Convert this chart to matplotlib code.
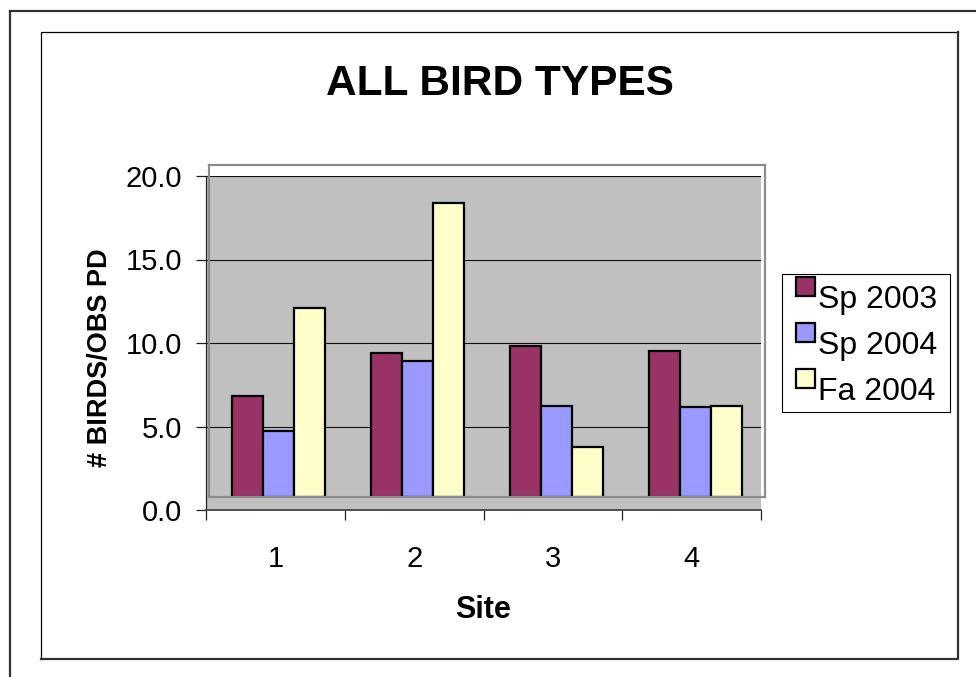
import matplotlib.pyplot as plt
from matplotlib.lines import Line2D
from matplotlib.patches import Rectangle
import numpy as np

plt.rcParams['font.family'] = ['Liberation Sans', 'DejaVu Sans']

sites = ['1', '2', '3', '4']
series = ['Sp 2003', 'Sp 2004', 'Fa 2004']
colors = ['#993366', '#9999FF', '#FFFFCC']
sp_2003 = [6.1, 8.7, 9.1, 8.8]
sp_2004 = [4.0, 8.2, 5.5, 5.4]
fa_2004 = [11.4, 17.7, 3.0, 5.5]
yticks = [0, 5, 10, 15, 20]

W, H = 976, 677


def fx(px):
    return px / W


def fy(py):
    return 1 - py / H


fig = plt.figure(figsize=(W / 100, H / 100), dpi=100)

# outer page border and chart area border with shadow edges
fig.add_artist(Line2D([fx(10), fx(10)], [fy(11), 0], color='#333333', lw=1.6,
                      transform=fig.transFigure))
fig.add_artist(Line2D([fx(10), 1], [fy(11), fy(11)], color='#333333', lw=1.6,
                      transform=fig.transFigure))
fig.add_artist(Line2D([fx(41), fx(41), fx(958)], [fy(659), fy(32), fy(32)],
                      color='black', lw=0.9, transform=fig.transFigure))
fig.add_artist(Line2D([fx(41), fx(958), fx(958)], [fy(659), fy(659), fy(32)],
                      color='#333333', lw=1.6, transform=fig.transFigure))

# value axis with grey wall and gridlines
ax = fig.add_axes([fx(206), fy(510), fx(761) - fx(206), fy(176) - fy(510)])
ax.set_facecolor('#C0C0C0')
ax.set_xlim(0.5, 4.5)
ax.set_ylim(0, 20)
ax.set_yticks(yticks)
ax.set_yticklabels([f'{v:.1f}' for v in yticks])
ax.yaxis.grid(True, color='#111111', lw=0.8)
ax.set_axisbelow(True)
for s in ['top', 'right']:
    ax.spines[s].set_visible(False)
ax.spines['left'].set_color('#222222')
ax.spines['left'].set_linewidth(0.9)
ax.spines['bottom'].set_color('#444444')
ax.spines['bottom'].set_linewidth(1.3)
ax.set_xticks(np.arange(1, 5))
ax.set_xticklabels(sites)
ax.set_xticks(np.arange(0.5, 5, 1), minor=True)
ax.tick_params(axis='x', which='major', length=0, pad=25, labelsize=21)
ax.tick_params(axis='x', which='minor', length=7, width=0.9, color='#222222')
ax.tick_params(axis='y', length=7, width=0.9, color='#222222', pad=10, labelsize=21)

# plot area frame, drawn slightly offset, holding the bars
bx = fig.add_axes([fx(209), fy(497), fx(765) - fx(209), fy(165) - fy(497)])
bx.patch.set_alpha(0)
bx.set_xlim(0.5, 4.5)
bx.set_ylim(0, 20)
bx.set_xticks([])
bx.set_yticks([])
for s in bx.spines.values():
    s.set_color('#8C8C8C')
    s.set_linewidth(1.6)

x = np.arange(1, 5)
w = 1 / 4.5
for i, (vals, c) in enumerate(zip([sp_2003, sp_2004, fa_2004], colors)):
    bx.bar(x + (i - 1) * w, vals, width=w, color=c, edgecolor='black', lw=1.6)

fig.text(fx(500), fy(84), 'ALL BIRD TYPES', ha='center', va='center',
         fontsize=30.5, fontweight='bold')
fig.text(fx(483), fy(610), 'Site', ha='center', va='center',
         fontsize=22, fontweight='bold')
fig.text(fx(100), fy(358), '# BIRDS/OBS PD', ha='center', va='center',
         fontsize=19.5, fontweight='bold', rotation=90)

# legend box
fig.add_artist(Rectangle((fx(782), fy(412)), fx(950) - fx(782), fy(274) - fy(412),
                         transform=fig.transFigure, fill=False, ec='black', lw=0.8))
for i, (name, c) in enumerate(zip(series, colors)):
    top = 277 + 46 * i
    fig.add_artist(Rectangle((fx(796), fy(top + 19)), fx(19), 19 / H,
                             transform=fig.transFigure, fc=c, ec='black', lw=1.6))
    fig.text(fx(818), fy(top + 23), name, ha='left', va='center', fontsize=23)

fig.savefig('out.png', dpi=100)
